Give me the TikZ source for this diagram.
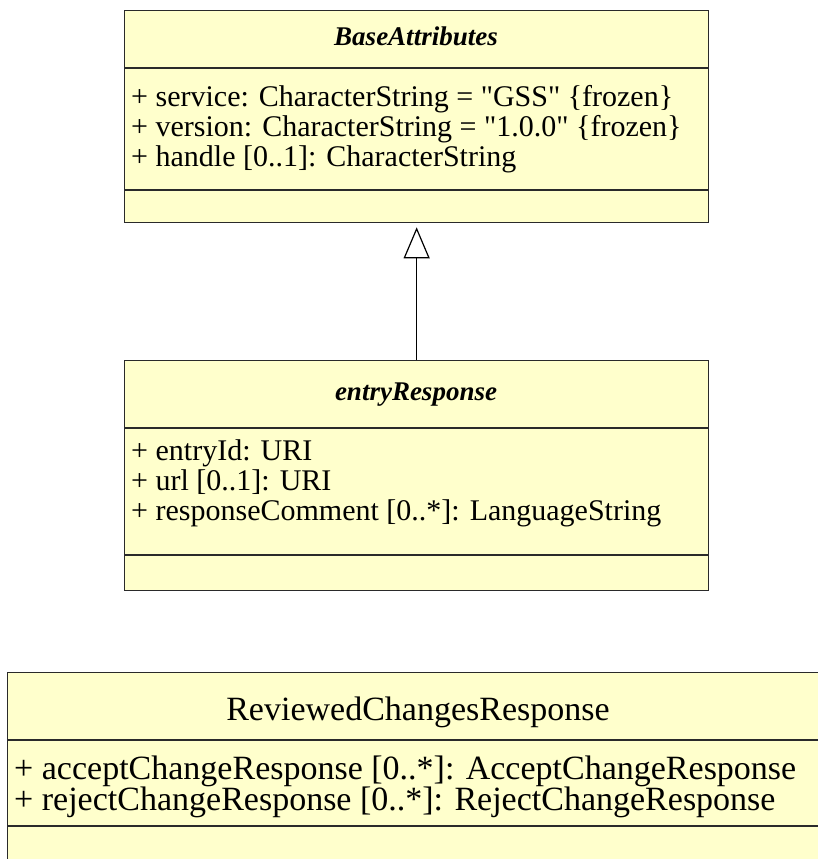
\documentclass[tikz,border=0pt]{standalone}
\usepackage{fontspec}
\setmainfont{Liberation Serif}
\usetikzlibrary{arrows.meta}
\definecolor{clsfill}{HTML}{FFFFCC}
\definecolor{clsline}{HTML}{2A2A2A}
\begin{document}
\begin{tikzpicture}[x=1pt,y=-1pt,
  cls/.style={draw=clsline, fill=clsfill, line width=1.3pt, inner sep=0pt, anchor=north west},
  sep/.style={draw=clsline, line width=1.3pt},
  ttl/.style={inner sep=0pt, anchor=base, font=\fontsize{27}{30}\selectfont},
  attr/.style={inner sep=0pt, anchor=base west, font=\fontsize{30}{30}\selectfont},
  ttlb/.style={inner sep=0pt, anchor=base, font=\fontsize{34}{34}\selectfont},
  attrb/.style={inner sep=0pt, anchor=base west, font=\fontsize{34}{34}\selectfont},
  gen/.style={draw=black, line width=1.2pt, -{Triangle[open, length=31pt, width=26pt, line width=1.2pt]}}
]
\useasboundingbox (0,0) rectangle (818,859);
\clip (0,0) rectangle (818,859);

% BaseAttributes
\node[cls, minimum width=584pt, minimum height=212pt] (base) at (124,10) {};
\draw[sep] (124,68) -- (708,68);
\draw[sep] (124,190) -- (708,190);
\node[ttl] (baseT) at (416,46) {\textbf{\textit{BaseAttributes}}};
\node[attr] (baseA1) at (131,106) {+ service: CharacterString = \textquotedbl GSS\textquotedbl\ \{frozen\}};
\node[attr] (baseA2) at (131,136) {+ version: CharacterString = \textquotedbl 1.0.0\textquotedbl\ \{frozen\}};
\node[attr] (baseA3) at (131,166) {+ handle [0..1]: CharacterString};

% entryResponse
\node[cls, minimum width=584pt, minimum height=230pt] (entry) at (124,360) {};
\draw[sep] (124,428) -- (708,428);
\draw[sep] (124,555) -- (708,555);
\node[ttl] (entryT) at (416,400) {\textbf{\textit{entryResponse}}};
\node[attr] (entryA1) at (131,460) {+ entryId: URI};
\node[attr] (entryA2) at (131,490) {+ url [0..1]: URI};
\node[attr] (entryA3) at (131,520) {+ responseComment [0..*]: LanguageString};

% generalization
\draw[gen, shorten >=4pt] (entry.north) -- (base.south);

% ReviewedChangesResponse
\node[cls, minimum width=820pt, minimum height=260pt] (rev) at (7,672) {};
\draw[sep] (7,740) -- (830,740);
\draw[sep] (7,826) -- (830,826);
\node[ttlb] (revT) at (418,720) {ReviewedChangesResponse};
\node[attrb] (revA1) at (14,779) {+ acceptChangeResponse [0..*]: AcceptChangeResponse};
\node[attrb] (revA2) at (14,810) {+ rejectChangeResponse [0..*]: RejectChangeResponse};
\end{tikzpicture}
\end{document}
